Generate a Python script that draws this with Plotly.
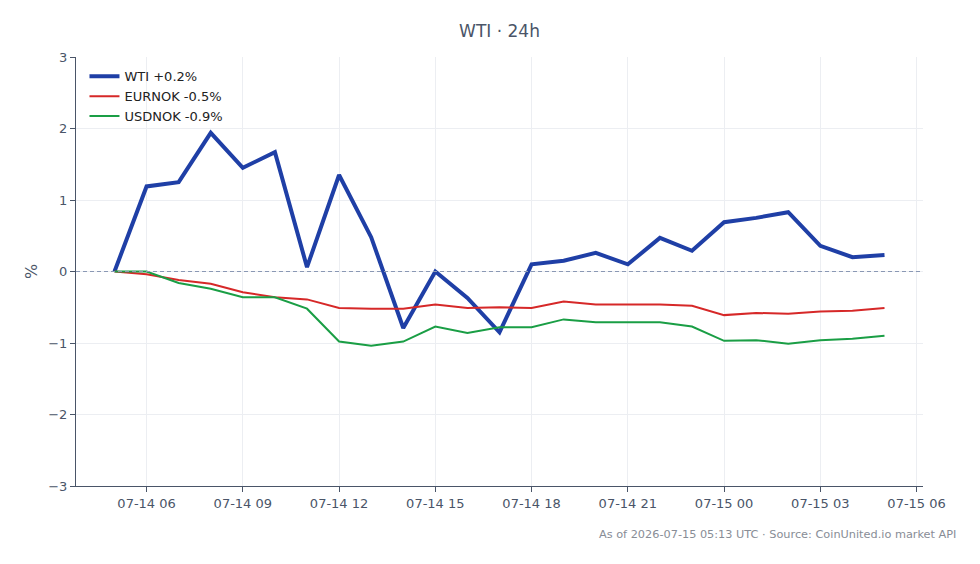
import plotly.graph_objects as go
import pandas as pd

times = pd.date_range("2026-07-14 05:00", "2026-07-15 05:00", freq="h")

wti = [0.00, 1.19, 1.25, 1.94, 1.45, 1.67, 0.06, 1.35, 0.48, -0.79, 0.00, -0.37, -0.85,
       0.10, 0.15, 0.26, 0.10, 0.47, 0.29, 0.69, 0.75, 0.83, 0.36, 0.20, 0.23]
eurnok = [0.00, -0.04, -0.12, -0.17, -0.29, -0.36, -0.39, -0.51, -0.52, -0.52, -0.46, -0.51, -0.50,
          -0.51, -0.42, -0.46, -0.46, -0.46, -0.48, -0.61, -0.58, -0.59, -0.56, -0.55, -0.51]
usdnok = [0.00, 0.00, -0.16, -0.24, -0.36, -0.36, -0.52, -0.98, -1.04, -0.98, -0.77, -0.86, -0.78,
          -0.78, -0.67, -0.71, -0.71, -0.71, -0.77, -0.97, -0.96, -1.01, -0.96, -0.94, -0.90]

series_names = ["WTI +0.2%", "EURNOK -0.5%", "USDNOK -0.9%"]
series_colors = ["#1f3fa6", "#d62828", "#1a9e45"]
series_widths = [4, 2, 2]

fig = go.Figure()
for name, vals, col, w in zip(series_names, [wti, eurnok, usdnok], series_colors, series_widths):
    fig.add_trace(go.Scatter(x=times, y=vals, mode="lines", name=name,
                             line=dict(color=col, width=w)))

pad = pd.Timedelta(hours=1.2)
fig.add_hline(y=0, line=dict(color="#8a98b4", width=1, dash="4px,3px"))

axis_col = "#4a5568"
fig.update_layout(
    width=980, height=564,
    paper_bgcolor="white", plot_bgcolor="white",
    margin=dict(l=76, r=57, t=57, b=78),
    font=dict(family="DejaVu Sans", size=13, color=axis_col),
    title=dict(text="WTI · 24h", x=0.5, xref="paper", xanchor="center", y=0.956,
               font=dict(size=17, color=axis_col)),
    showlegend=True,
    legend=dict(x=0.01, y=0.99, xanchor="left", yanchor="top",
                bgcolor="rgba(255,255,255,0)", font=dict(size=13, color="#222")),
    xaxis=dict(range=[times[0] - pad, times[-1] + pad], tickformat="%m-%d %H",
               dtick=3 * 3600 * 1000, tick0="2026-07-14 00:00",
               showline=True, linecolor=axis_col, linewidth=1,
               ticks="outside", ticklen=5, tickcolor=axis_col,
               showgrid=True, gridcolor="#eceef2", zeroline=False),
    yaxis=dict(range=[-3, 3], dtick=1, title=dict(text="%", standoff=6),
               showline=True, linecolor=axis_col, linewidth=1,
               ticks="outside", ticklen=5, tickcolor=axis_col,
               showgrid=True, gridcolor="#eceef2", zeroline=False),
    annotations=[dict(text="As of 2026-07-15 05:13 UTC · Source: CoinUnited.io market API",
                      xref="paper", yref="paper", x=1.0414, y=-0.112,
                      xanchor="right", yanchor="middle", showarrow=False,
                      font=dict(size=11.3, color="#888d96"))],
)

fig.write_html("out.html")
